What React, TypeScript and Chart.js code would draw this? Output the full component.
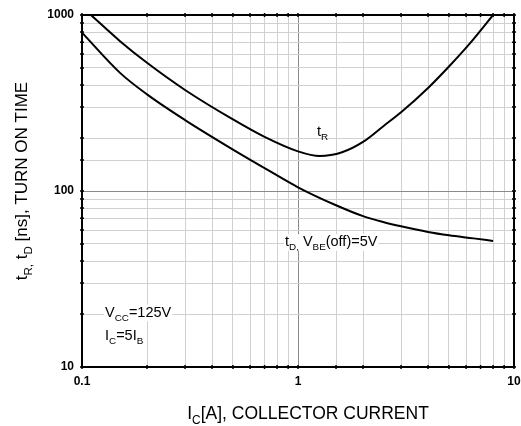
import React, { useEffect, useRef } from "react";
import { Chart, registerables } from "chart.js";
Chart.register(...registerables);

// Data (log-log)
const tRCurrent = [0.11, 0.15, 0.2, 0.3, 0.5, 0.7, 1.0, 1.26, 1.6, 2.0, 2.5, 3.0, 4.0, 5.0, 6.25, 8.0];
const tRTime = [1000, 710, 535, 375, 255, 203, 168, 158, 166, 190, 235, 280, 385, 510, 690, 1000];
const tDCurrent = [0.1, 0.15, 0.2, 0.3, 0.5, 0.7, 1.0, 1.5, 2.0, 2.5, 3.0, 4.0, 5.0, 6.5, 8.0];
const tDTime = [794, 469, 354, 253, 172, 135, 105, 83, 72, 66.5, 63, 58.5, 56, 53.8, 52];
const xTickLabels = [0.1, 1, 10];
const yTickLabels = [10, 100, 1000];
const xMajorGrid = [1];
const yMajorGrid = [100];

const FONT = "'Liberation Sans', Arial, Helvetica, sans-serif";

type Part = { t: string; sub?: boolean };

const near = (v: number, arr: number[]) => arr.some((a) => Math.abs(v - a) / a < 1e-6);

function drawRich(
  ctx: CanvasRenderingContext2D,
  parts: Part[],
  x: number,
  y: number,
  size: number,
  align: "left" | "center",
  bg: boolean
) {
  const subSize = size * 0.68;
  let w = 0;
  for (const p of parts) {
    ctx.font = `${p.sub ? subSize : size}px ${FONT}`;
    w += ctx.measureText(p.t).width;
  }
  let cx = align === "center" ? x - w / 2 : x;
  if (bg) {
    ctx.fillStyle = "#ffffff";
    ctx.fillRect(cx - 1, y - size * 0.82, w + 2, size * 1.15);
  }
  ctx.fillStyle = "#000000";
  ctx.textBaseline = "alphabetic";
  ctx.textAlign = "left";
  for (const p of parts) {
    ctx.font = `${p.sub ? subSize : size}px ${FONT}`;
    ctx.fillText(p.t, cx, p.sub ? y + size * 0.28 : y);
    cx += ctx.measureText(p.t).width;
  }
}

const decorPlugin = {
  id: "decor",
  afterDatasetsDraw(chart: any) {
    const ctx: CanvasRenderingContext2D = chart.ctx;
    ctx.save();
    drawRich(ctx, [{ t: "t" }, { t: "R", sub: true }], 317, 135.5, 14.5, "left", false);
    drawRich(
      ctx,
      [{ t: "t" }, { t: "D,", sub: true }, { t: " V" }, { t: "BE", sub: true }, { t: "(off)=5V" }],
      285,
      246,
      14.5,
      "left",
      true
    );
    drawRich(ctx, [{ t: "V" }, { t: "CC", sub: true }, { t: "=125V" }], 105, 316.5, 14.5, "left", true);
    drawRich(ctx, [{ t: "I" }, { t: "C", sub: true }, { t: "=5I" }, { t: "B", sub: true }], 105, 340, 14.5, "left", true);
    ctx.restore();
  },
  afterDraw(chart: any) {
    const ctx: CanvasRenderingContext2D = chart.ctx;
    const { left, right, top, bottom } = chart.chartArea;
    const xs = chart.scales.x;
    const ys = chart.scales.y;
    ctx.save();
    ctx.strokeStyle = "#000";
    ctx.lineWidth = 2;
    ctx.strokeRect(left, top, right - left, bottom - top);
    ctx.lineWidth = 1.5;
    ctx.beginPath();
    for (const tk of xs.ticks) {
      const px = xs.getPixelForValue(tk.value);
      ctx.moveTo(px, top - 2);
      ctx.lineTo(px, top + 2);
      ctx.moveTo(px, bottom - 2);
      ctx.lineTo(px, bottom + 2);
    }
    for (const tk of ys.ticks) {
      const py = ys.getPixelForValue(tk.value);
      ctx.moveTo(left - 2, py);
      ctx.lineTo(left + 2, py);
      ctx.moveTo(right - 2, py);
      ctx.lineTo(right + 2, py);
    }
    ctx.stroke();
    drawRich(
      ctx,
      [{ t: "I" }, { t: "C", sub: true }, { t: "[A], COLLECTOR CURRENT" }],
      308,
      419,
      17.5,
      "center",
      false
    );
    ctx.translate(27, 181);
    ctx.rotate(-Math.PI / 2);
    drawRich(
      ctx,
      [{ t: "t" }, { t: "R,", sub: true }, { t: " t" }, { t: "D", sub: true }, { t: " [ns], TURN ON TIME" }],
      0,
      0,
      17,
      "center",
      false
    );
    ctx.restore();
  },
};

export default function App() {
  const ref = useRef<HTMLCanvasElement | null>(null);
  useEffect(() => {
    if (!ref.current) return;
    const chart = new Chart(ref.current, {
      type: "line",
      data: {
        datasets: [
          {
            label: "tR",
            data: tRCurrent.map((x, i) => ({ x, y: tRTime[i] })),
            borderColor: "#000",
            borderWidth: 2,
            pointRadius: 0,
            cubicInterpolationMode: "monotone",
            fill: false,
          },
          {
            label: "tD",
            data: tDCurrent.map((x, i) => ({ x, y: tDTime[i] })),
            borderColor: "#000",
            borderWidth: 2,
            pointRadius: 0,
            cubicInterpolationMode: "monotone",
            fill: false,
          },
        ],
      },
      options: {
        animation: false,
        responsive: true,
        maintainAspectRatio: false,
        devicePixelRatio: 1,
        layout: { padding: { top: 15, right: 7, left: 0, bottom: 0 } },
        plugins: { legend: { display: false }, tooltip: { enabled: false }, title: { display: false } },
        scales: {
          x: {
            type: "logarithmic",
            min: 0.1,
            max: 10,
            border: { display: true, color: "#000", width: 2 },
            grid: {
              drawTicks: false,
              lineWidth: 1,
              color: (c: any) => (near(c.tick.value, xMajorGrid) ? "#8a8a8a" : "#d0d0d0"),
            },
            ticks: {
              autoSkip: false,
              maxRotation: 0,
              padding: 7,
              color: "#000",
              font: { family: FONT, size: 12, weight: "bold" },
              callback: (v: any) => (near(Number(v), xTickLabels) ? String(Number(v)) : ""),
            },
            afterFit: (s: any) => {
              s.height = 59;
              s.paddingLeft = 0;
              s.paddingRight = 0;
            },
          },
          y: {
            type: "logarithmic",
            min: 10,
            max: 1000,
            border: { display: true, color: "#000", width: 2 },
            grid: {
              drawTicks: false,
              lineWidth: 1,
              color: (c: any) => (near(c.tick.value, yMajorGrid) ? "#8a8a8a" : "#d0d0d0"),
            },
            ticks: {
              autoSkip: false,
              padding: 8,
              color: "#000",
              font: { family: FONT, size: 12, weight: "bold" },
              callback: (v: any) => (near(Number(v), yTickLabels) ? String(Number(v)) : ""),
            },
            afterFit: (s: any) => {
              s.width = 82;
              s.paddingTop = 0;
              s.paddingBottom = 0;
            },
          },
        },
      } as any,
      plugins: [decorPlugin],
    });
    return () => chart.destroy();
  }, []);
  return (
    <div style={{ position: "fixed", left: 0, top: 0, width: 521, height: 426, background: "#fff" }}>
      <canvas ref={ref} />
    </div>
  );
}
